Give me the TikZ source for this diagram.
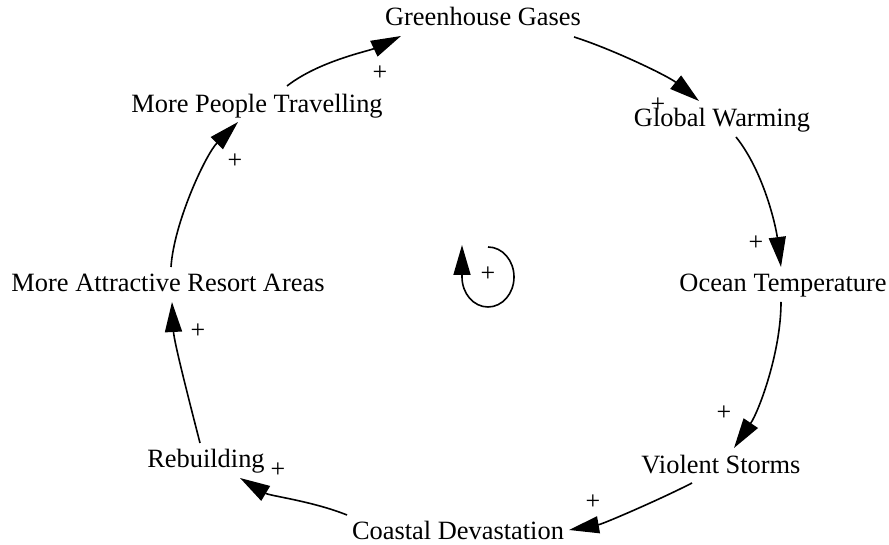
\documentclass[tikz,border=0pt]{standalone}
\usepackage{fontspec}
\setmainfont{Liberation Serif}
\usetikzlibrary{arrows.meta}

\begin{document}
\begin{tikzpicture}[x=1bp, y=1bp,
    var/.style={inner sep=0pt, anchor=base, font=\fontsize{26.5}{30}\selectfont},
    pol/.style={inner sep=0pt, font=\fontsize{26}{30}\selectfont},
    link/.style={line width=1.6bp, -{Triangle[length=30bp, width=17bp]}}]
  \useasboundingbox (0,0) rectangle (889,545);

  % variables of the loop
  \node[var] (gg) at (483,519) {Greenhouse Gases};
  \node[var] (gw) at (722,418) {Global Warming};
  \node[var] (ot) at (783,253) {Ocean Temperature};
  \node[var] (vs) at (721,71)  {Violent Storms};
  \node[var] (cd) at (458,5)   {Coastal Devastation};
  \node[var] (rb) at (206,77)  {Rebuilding};
  \node[var] (ma) at (168,253) {More Attractive Resort Areas};
  \node[var] (mp) at (257,432) {More People Travelling};

  % causal links
  \draw[link] ([shift={(91,-11)}]gg.base) .. controls +(38,-12) and +(-31,25) .. ([shift={(-23,26)}]gw.base);
  \draw[link] ([shift={(14,-10)}]gw.base) .. controls +(28,-35) and +(-5,40) .. ([shift={(-2,25)}]ot.base);
  \draw[link] ([shift={(-2,-10)}]ot.base) .. controls +(0,-50) and +(25,37) .. ([shift={(13,26)}]vs.base);
  \draw[link] ([shift={(-29,-9)}]vs.base) .. controls +(-31,-16) and +(34,6) .. ([shift={(111,10)}]cd.base);
  \draw[link] ([shift={(-111,25)}]cd.base) .. controls +(-35,14) and +(30,-18) .. ([shift={(34,-10)}]rb.base);
  \draw[link] ([shift={(-6,25)}]rb.base) .. controls +(-10,39) and +(2,-40) .. ([shift={(4,-10)}]ma.base);
  \draw[link] ([shift={(3,25)}]ma.base) .. controls +(3,45) and +(-32,-32) .. ([shift={(-19,-9)}]mp.base);
  \draw[link] ([shift={(30,27)}]mp.base) .. controls +(32,25) and +(-32,-15) .. ([shift={(-82,-10)}]gg.base);

  % link polarities
  \node[pol] (p1) at (658,440) {+};
  \node[pol] (p2) at (756,302) {+};
  \node[pol] (p3) at (724,132) {+};
  \node[pol] (p4) at (593,43)  {+};
  \node[pol] (p5) at (278,75)  {+};
  \node[pol] (p6) at (198,214) {+};
  \node[pol] (p7) at (235,384) {+};
  \node[pol] (p8) at (380,472) {+};

  % reinforcing loop marker
  \node[pol] (loop) at (488,271) {+};
  \draw[link] (488,298) arc[start angle=90, end angle=-180, x radius=26, y radius=30] -- ++(0,32);
\end{tikzpicture}
\end{document}
